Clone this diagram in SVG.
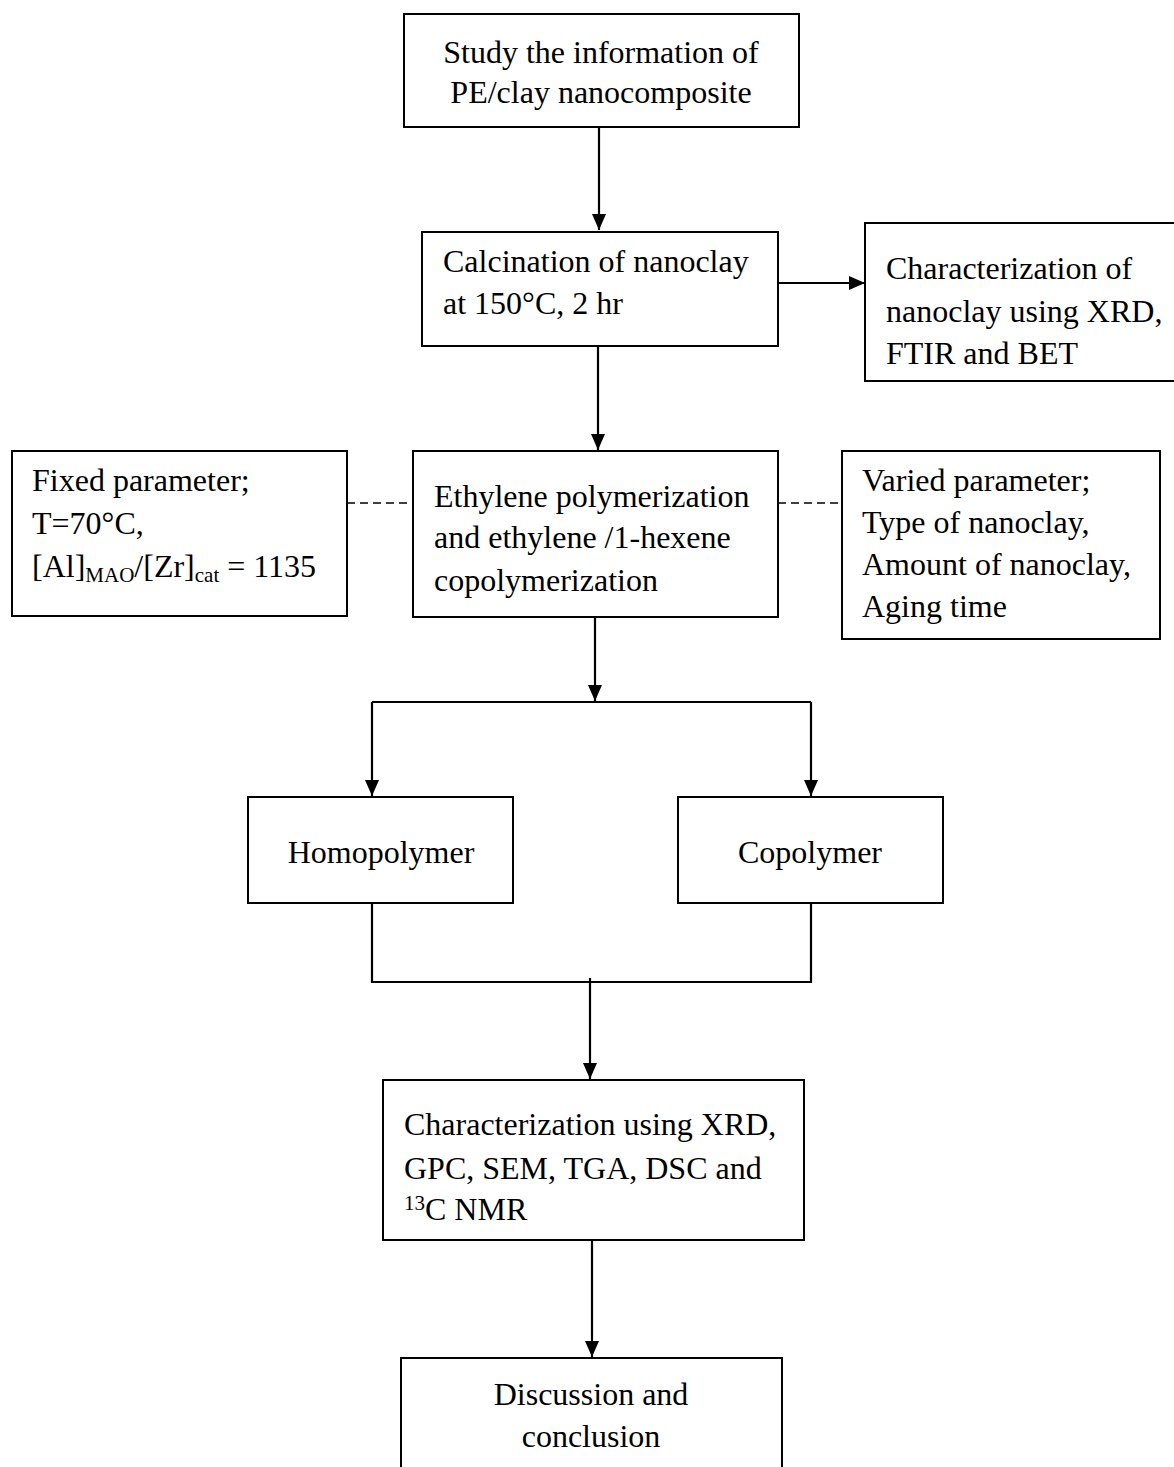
<svg xmlns="http://www.w3.org/2000/svg" width="1174" height="1467" viewBox="0 0 1174 1467">
<style>
  .box { fill: #ffffff; stroke: #000000; stroke-width: 2; }
  .t { font-family: "Liberation Serif", "Times New Roman", serif; font-size: 32px; fill: #000000; }
  .c { text-anchor: middle; }
  .sub { font-size: 21px; }
  .conn { fill: none; stroke: #000000; stroke-width: 2.2; }
  .dash { fill: none; stroke: #000000; stroke-width: 1.6; stroke-dasharray: 8 5; }
</style>
<defs>
  <marker id="arrow" markerUnits="userSpaceOnUse" markerWidth="16" markerHeight="16" refX="16" refY="8" orient="auto">
    <path d="M0,1 L16,8 L0,15 z" fill="#000000"/>
  </marker>
</defs>
<rect width="1174" height="1467" fill="#ffffff"/>

<g id="connectors">
  <path class="conn" d="M599,127 V230" marker-end="url(#arrow)"/>
  <path class="conn" d="M778,283 H865" marker-end="url(#arrow)"/>
  <path class="conn" d="M598,346 V450" marker-end="url(#arrow)"/>
  <path class="dash" d="M347,503 H413"/>
  <path class="dash" d="M778,503 H842"/>
  <path class="conn" d="M595,617 V701" marker-end="url(#arrow)"/>
  <path class="conn" d="M372,702 H811"/>
  <path class="conn" d="M372,702 V796" marker-end="url(#arrow)"/>
  <path class="conn" d="M811,702 V796" marker-end="url(#arrow)"/>
  <path class="conn" d="M372,903 V982 H811 V903"/>
  <path class="conn" d="M590,978 V1079" marker-end="url(#arrow)"/>
  <path class="conn" d="M592,1240 V1357" marker-end="url(#arrow)"/>
</g>

<g id="study">
  <rect class="box" x="404" y="14" width="395" height="113"/>
  <text class="t c" x="601" y="63">Study the information of</text>
  <text class="t c" x="601" y="103">PE/clay nanocomposite</text>
</g>

<g id="calcination">
  <rect class="box" x="422" y="232" width="356" height="114"/>
  <text class="t" x="443" y="272">Calcination of nanoclay</text>
  <text class="t" x="443" y="314">at 150°C, 2 hr</text>
</g>

<g id="nanoclay-characterization">
  <rect class="box" x="865" y="223" width="320" height="158"/>
  <text class="t" x="886" y="279">Characterization of</text>
  <text class="t" x="886" y="322">nanoclay using XRD,</text>
  <text class="t" x="886" y="364">FTIR and BET</text>
</g>

<g id="fixed-parameter">
  <rect class="box" x="12" y="451" width="335" height="165"/>
  <text class="t" x="32" y="491">Fixed parameter;</text>
  <text class="t" x="32" y="534">T=70°C,</text>
  <text class="t" x="32" y="577">[Al]<tspan class="sub" dy="5">MAO</tspan><tspan dy="-5">/[Zr]</tspan><tspan class="sub" dy="5">cat</tspan><tspan dy="-5"> = 1135</tspan></text>
</g>

<g id="polymerization">
  <rect class="box" x="413" y="451" width="365" height="166"/>
  <text class="t" x="434" y="507">Ethylene polymerization</text>
  <text class="t" x="434" y="548">and ethylene /1-hexene</text>
  <text class="t" x="434" y="591">copolymerization</text>
</g>

<g id="varied-parameter">
  <rect class="box" x="842" y="451" width="318" height="188"/>
  <text class="t" x="862" y="491">Varied parameter;</text>
  <text class="t" x="862" y="533">Type of nanoclay,</text>
  <text class="t" x="862" y="575">Amount of nanoclay,</text>
  <text class="t" x="862" y="617">Aging time</text>
</g>

<g id="homopolymer">
  <rect class="box" x="248" y="797" width="265" height="106"/>
  <text class="t c" x="381" y="863">Homopolymer</text>
</g>

<g id="copolymer">
  <rect class="box" x="678" y="797" width="265" height="106"/>
  <text class="t c" x="810" y="863">Copolymer</text>
</g>

<g id="characterization">
  <rect class="box" x="383" y="1080" width="421" height="160"/>
  <text class="t" x="404" y="1135">Characterization using XRD,</text>
  <text class="t" x="404" y="1179">GPC, SEM, TGA, DSC and</text>
  <text class="t" x="404" y="1220"><tspan class="sub" dy="-10">13</tspan><tspan dy="10">C NMR</tspan></text>
</g>

<g id="discussion">
  <rect class="box" x="401" y="1358" width="381" height="130"/>
  <text class="t c" x="591" y="1405">Discussion and</text>
  <text class="t c" x="591" y="1447">conclusion</text>
</g>
</svg>
